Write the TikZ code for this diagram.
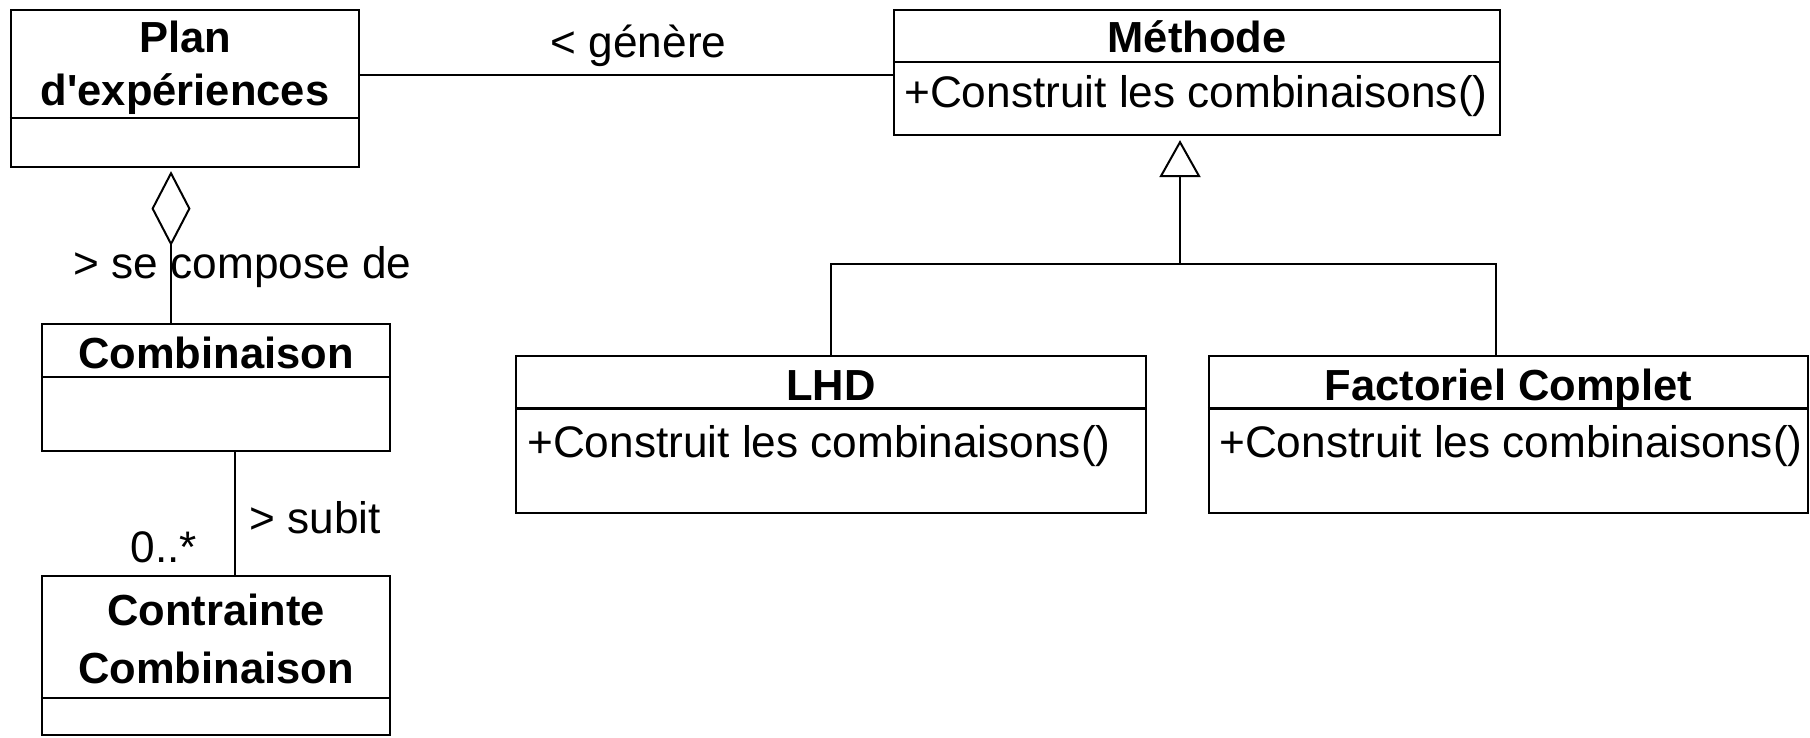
\documentclass[tikz,border=0pt]{standalone}
\usepackage{fontspec}
\setmainfont{Liberation Sans}
\usetikzlibrary{arrows.meta}
\tikzset{
  box/.style={draw, line width=2.2pt, rectangle, inner sep=0pt},
  divline/.style={line width=2.2pt},
  conn/.style={line width=2pt},
  ttl/.style={font=\bfseries\fontsize{43.5}{53}\selectfont, anchor=base, inner sep=0pt},
  txt/.style={font=\fontsize{44.2}{53}\selectfont, anchor=base, inner sep=0pt},
  op/.style={txt, anchor=base west},
}
\begin{document}
\begin{tikzpicture}[x=1pt, y=-1pt]
\useasboundingbox (0,0) rectangle (1810,738);
% boxes
\node[box, minimum width=348pt, minimum height=157pt] (plan) at (185,88.5) {};
\node[box, minimum width=606pt, minimum height=125pt] (meth) at (1197,72.5) {};
\node[box, minimum width=630pt, minimum height=157pt] (lhd) at (831,434.5) {};
\node[box, minimum width=599pt, minimum height=157pt] (fac) at (1508.5,434.5) {};
\node[box, minimum width=348pt, minimum height=127pt] (comb) at (216,387.5) {};
\node[box, minimum width=348pt, minimum height=159pt] (cont) at (216,655.5) {};
% dividers
\draw[divline] (plan.west |- 0,118) -- (plan.east |- 0,118);
\draw[divline] (meth.west |- 0,62) -- (meth.east |- 0,62);
\draw[divline] (lhd.west |- 0,408.5) -- (lhd.east |- 0,408.5);
\draw[divline] (fac.west |- 0,408.5) -- (fac.east |- 0,408.5);
\draw[divline] (comb.west |- 0,377) -- (comb.east |- 0,377);
\draw[divline] (cont.west |- 0,698) -- (cont.east |- 0,698);
% texts
\node[ttl] (plant1) at (185,53) {Plan};
\node[ttl] (plant2) at (185,106) {d\textquotesingle expériences};
\node[ttl] (metht) at (1197,53) {Méthode};
\node[op] (methop) at (904,108) {+Construit les combinaisons()};
\node[ttl] (lhdt) at (831,400) {LHD};
\node[op] (lhdop) at (527,457) {+Construit les combinaisons()};
\node[ttl] (fact) at (1508.5,400) {Factoriel Complet};
\node[op] (facop) at (1219,457) {+Construit les combinaisons()};
\node[ttl] (combt) at (216,368) {Combinaison};
\node[ttl] (contt1) at (216,625) {Contrainte};
\node[ttl] (contt2) at (216,683) {Combinaison};
% connectors
\draw[conn] (plan.east |- 0,75) -- (meth.west |- 0,75);
\node[txt] (gen) at (638.5,58) {< génère};
\coordinate (j) at (1180,264);
\coordinate (fx) at (1496,0);
\draw[conn] (lhd.north) |- (j) -| (fac.north -| fx);
\draw[conn, -{Triangle[open, length=37pt, width=41pt]}, shorten >=4pt] (j) -- (meth.south -| j);
\coordinate (dx) at (171,0);
\draw[conn, {Diamond[open, length=75pt, width=39pt]}-, shorten <=3pt] (plan.south -| dx) -- (comb.north -| dx);
\node[txt] (compose) at (242.5,278) {> se compose de};
\coordinate (sx) at (235,0);
\draw[conn] (comb.south -| sx) -- (cont.north -| sx);
\node[txt] (mult) at (164,562) {0..*};
\node[txt] (subit) at (315,533) {> subit};
\end{tikzpicture}
\end{document}
